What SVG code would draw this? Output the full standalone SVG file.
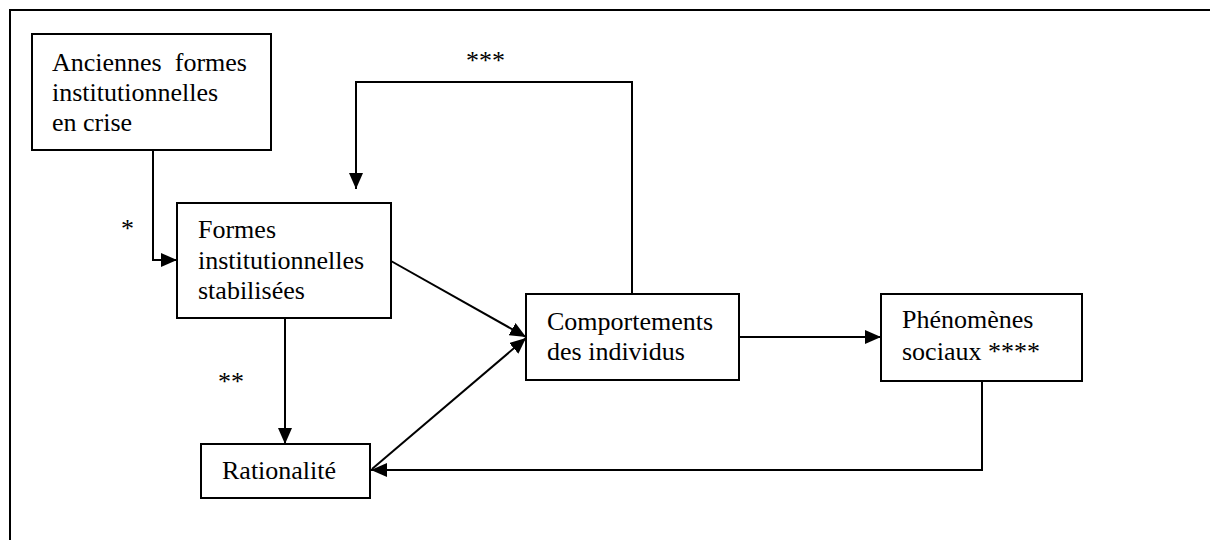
<svg xmlns="http://www.w3.org/2000/svg" width="1210" height="540" viewBox="0 0 1210 540">
<style>
.box{fill:#fff;stroke:#000;stroke-width:2}
text{font-family:'Liberation Serif','Times New Roman',Times,'DejaVu Serif',serif;font-size:26px;fill:#000}
.c{fill:none;stroke:#000;stroke-width:2}
</style>
<defs>
<marker id="ah" markerUnits="userSpaceOnUse" markerWidth="16" markerHeight="14" refX="16" refY="7" orient="auto">
<path d="M0,0 L16,7 L0,14 Z" fill="#000"/>
</marker>
</defs>
<rect width="1210" height="540" fill="#fff"/>
<path d="M10,540 V10 H1210" fill="none" stroke="#000" stroke-width="2"/>
<g id="connectors">
<path class="c" d="M153,150 V260 H177" marker-end="url(#ah)"/>
<path class="c" d="M632,294 V82 H356 V189" marker-end="url(#ah)"/>
<path class="c" d="M391,261 L526,337" marker-end="url(#ah)"/>
<path class="c" d="M372,469 L526,338" marker-end="url(#ah)"/>
<path class="c" d="M285,318 V444" marker-end="url(#ah)"/>
<path class="c" d="M739,337 H881" marker-end="url(#ah)"/>
<path class="c" d="M982,381 V470 H371" marker-end="url(#ah)"/>
</g>
<g id="labels" font-family="Liberation Serif, serif">
<text x="121" y="237">*</text>
<text x="466" y="69">***</text>
<text x="218" y="390">**</text>
</g>
<g id="anciennes" font-family="Liberation Serif, serif">
<rect class="box" x="32" y="34" width="239" height="116"/>
<text x="52" y="71" xml:space="preserve">Anciennes  formes</text>
<text x="52" y="101">institutionnelles</text>
<text x="52" y="131">en crise</text>
</g>
<g id="formes" font-family="Liberation Serif, serif">
<rect class="box" x="177" y="203" width="214" height="115"/>
<text x="198" y="238">Formes</text>
<text x="198" y="269">institutionnelles</text>
<text x="198" y="299">stabilisées</text>
</g>
<g id="comportements" font-family="Liberation Serif, serif">
<rect class="box" x="526" y="294" width="213" height="86"/>
<text x="547" y="330">Comportements</text>
<text x="547" y="360">des individus</text>
</g>
<g id="phenomenes" font-family="Liberation Serif, serif">
<rect class="box" x="881" y="294" width="201" height="87"/>
<text x="902" y="328">Phénomènes</text>
<text x="902" y="360">sociaux ****</text>
</g>
<g id="rationalite" font-family="Liberation Serif, serif">
<rect class="box" x="201" y="444" width="169" height="54"/>
<text x="222" y="479">Rationalité</text>
</g>
</svg>
